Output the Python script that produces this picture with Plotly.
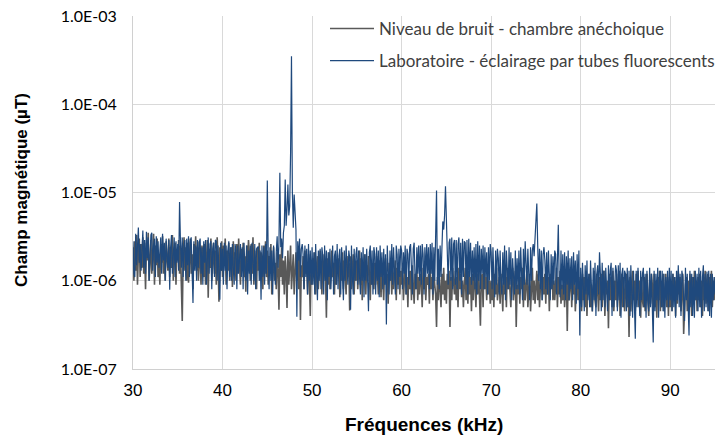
import plotly.graph_objects as go

# Sampling grid of the spectrum (kHz)
FREQ_START = 30.0
FREQ_STEP = 0.1

# Magnetic field values, in units of 1e-7 µT, one row per kHz (10 samples/kHz)
noise_anechoic = [
    24,10,28,13,33,9,21,30,11,26,
    14,31,12,22,8,27,17,35,10,23,
    29,12,19,34,9,25,15,30,11,20,
    9,26,16,32,12,22,10,28,18,13,
    30,11,24,14,33,10,20,27,9,22,
    17,29,12,25,9,3.5,19,31,13,24,
    10,27,9.5,22,30,12,20,8,26,16,
    32,13,24,10,28,15,9,25,19,11,
    26,9,21,29,6.4,23,14,30,10,19,
    27,12,22,9,31,17,5.8,24,13,28,
    11,25,16,30,9,22,13,27,10,20,
    24,8.5,28,14,21,10,26,12,30,15,
    9,23,13,27,11,19,7.5,25,16,29,
    20,10,26,12,31,9,22,15,8,24,
    13,27,10,21,17,8,25,12,28,11,
    22,9,19,12,26,7,18,24,10,16,
    8,21,13,4.7,20,11,24,9,17,7,
    19,12,4.9,22,9,17,25,8,14,20,
    7,16,21,10,18,8,23,3.6,15,11,
    19,8,22,12,16,7,20,11,4.0,17,
    9,18,13,21,7,15,19,8,12,22,
    14,7,20,10,17,12,3.8,18,9,21,
    8,19,22,11,16,7,20,9,14,12,
    18,6.5,15,10,21,8,17,12,7,19,
    11,16,4.6,19,8,14,20,7,15,10,
    17,8,13,22,9,18,6,16,11,20,
    7,15,10,19,12,6,17,9,14,8,
    16,9,19,11,7,17,13,6.5,15,10,
    6,14,18,9,12,5.5,16,10,13,7,
    15,8,12,17,6,14,9,16,7,13,
    9,14,6,12,16,7,11,5,13,8,
    13,6,15,9,5.5,12,8,14,6,11,
    7,12,10,5,14,8,13,6,11,9,
    12,5.5,14,8,11,6,13,9,7,3.0,
    11,6,13,8,5,12,7,14,6,10,
    5.5,12,8,13,3.0,11,6,14,9,7,
    13,6,11,5,14,8,12,6.5,10,5,
    9,14,6,12,5.5,13,7,11,4.5,12,
    6,13,9,5,12,7,14,6,3.1,11,
    12,5,14,8,11,6,13,7,10,5.5,
    10,6,13,5,12,7,14,6,9,11,
    5.5,12,8,4.5,13,7,11,5,14,8,
    12,6,5,11,14,6,10,13,3.0,9,
    7,13,5.5,11,8,14,5,12,6,10,
    13,5,9,12,4.5,11,14,6,10,5.5,
    9,13,6,12,5,10,14,6,11,7,
    12,5.5,13,7,11,4.5,12,8,14,6,
    10,6,12,14,5,11,7,13,5.5,9,
    6,12,5,10,13,2.7,11,6,9,12,
    5,11,7,13,4.5,10,12,6,11,5.5,
    10,4.5,12,6,11,5,13,4,10,7,
    12,5,9,4.5,11,13,6,5,12,8,
    4.5,11,6,12,5,10,13,4,9,7,
    10,2.9,12,6,11,5,13,4.5,10,6,
    12,5,10,13,4,7,12,5,11,4.5,
    7,12,5,10,2.3,11,4.5,9,13,6,
    10,4.5,12,6,13,5,10,3.8,11,6,
    5,11,4.5,10,12,6,4,10,5.5,12,
    9,4.5,12,5,10,3.8,11,6,13,4.5,
    10,5,12,4.5,7,12,5,10,4,11,
    5,10,4.5,12,6,11,4,10,5.5,13,
    7,11,4.5,10,12,2.5,6,9,11,4.5,
    10,5,12,6,4,11,5.5,13,6,10,
    4.5,11,6,12,5,10,4,11,6,13,
    5.5,10,12,4.5,11,6,13,5,10,6,
    11,
]

lab_fluorescent = [
    28,12,11,34,15,30,40,16,26,13,
    24,37,14,29,12,36,18,31,10,27,
    33,35,13,25,30,11,32,16,28,14,
    22,31,12,34,17,27,10,30,19,14,
    29,7.9,24,33,12,27,31,11,28,16,
    26,13,78,28,14,31,11,25,29,10,
    30,15,32,11,27,31,14,5.6,28,13,
    25,10,29,14,27,30,12,24,9,28,
    16,29,9,25,31,12,26,28,8,23,
    27,11,29,28,10,25,14,6.1,27,13,
    23,9,27,13,25,8,22,28,11,24,
    10,26,14,9,26,22,8,25,12,23,
    26,11,24,8,27,13,10,25,7,22,
    12,25,9,27,15,10,26,8,23,24,
    24.5,10,22,6.1,25,11,24,9,26,12,
    137,20,8,24,10,22,7,25,12,9,
    21,32,14,27,167,24,30,18,35,42,
    140,42,65,123,55,70,284,3500,100,40,
    95,50,38,3.9,28,17,30,11,23,26,
    20,8,25,11,23,7,26,10,22,9,
    24,9,21,7,26,12,6,22,10,23,
    8,24,19,7,25,10,22,6,21,11,
    23,8,20,25,7,19,22,9,26,8,
    19,23,7,24,11,6,22,10,25,12,
    9,22,18,4.7,25,11,7,23,10,20,
    24,9,22,11,7,21,10,24,6.5,20,
    10,23,8,4.5,21,25,9,22,7,24,
    20,7,24,10,22,6.5,25,11,21,8,
    23,9,20,3.2,25,11,7,22,10,26,
    9,24,12,7,25,20,8,23,11,25,
    22,8,21,12,25,7,23,20,9,24,
    26,10,7,23,27,11,8,24,12,25,
    10,25,9,26,20,7,24,11,26,12,
    24,8,26,12,27,7,24,10,25,105,
    9,23,8,25,11,28,47,38,55,118,
    40,28,9,27,30,10,31,8,26,29,
    9,29,8,26,31,10,27,7,30,11,
    28,27,9,29,7,30,11,27,9,22,
    10,24,8,26,7,28,10,25,8,23,
    12,25,8,24,11,21,7,24,10,26,
    21,8,24,11,6.5,22,9,23,18,7,
    22,10,7,21,9,25,6,22,11,8,
    24,9,21,6,18,10,7,22,8,18,
    8,22,7,24,11,6,23,9,28,12,
    9,23,11,6,24,10,22,26,19,30,
    49,75,25,10,23,8,22,6,20,24,
    17,8,21,7,22,10,6,20,8,19,
    9,22,20,7,21,43,10,6.5,22,8,
    20,7,21,6,19,9,22,6,18,8,
    19,6,21,9,17,5.5,20,8,22,2.4,
    14,5,16,8,4.5,15,7,17,6,12,
    5,17,8,4.5,14,6,16,4,12,15,
    7,21,12,4.5,16,6,13,5,14,8,
    4.5,15,6,13,16,4,14,5,12,15,
    13,4.5,15,6,16,3.8,12,14,5,13,
    12,4.5,14,5,13,4,15,6,3.8,13,
    6,2.2,13,5,14,8,4,13,6,12,
    14,5,12,3.8,13,6,4.5,14,5,12,
    6,2.0,13,4.5,12,6,14,3.8,11,13,
    5,13,4.5,12,3.8,11,6,13,5,14,
    6,13,4.5,12,5,11,3.8,13,6,15,
    5,12,4,13,11,5.5,3.5,14,6,12,
    4.5,2.4,13,5,12,4,11,3.8,13,6,
    12,4.5,14,5,13,3.8,11,15,4.5,12,
    5,12.7,4.5,13,4,12,3.8,12,6,11,
    7,
]

UNIT = 1e-7  # list values are expressed in 1e-7 µT

series_names = ["Niveau de bruit - chambre anéchoique",
                "Laboratoire - éclairage par tubes fluorescents"]
series_colors = ["#595959", "#1F497D"]
series_widths = [1.6, 1.2]

y_tickvals = [1e-7, 1e-6, 1e-5, 1e-4, 1e-3]
y_ticktext = ["1.0E-07", "1.0E-06", "1.0E-05", "1.0E-04", "1.0E-03"]
x_tickvals = [30, 40, 50, 60, 70, 80, 90]
x_title = "Fréquences (kHz)"
y_title = "Champ magnétique (µT)"


def freqs(n):
    return [round(FREQ_START + FREQ_STEP * i, 3) for i in range(n)]


fig = go.Figure()
for name, vals, col, lw, leg in zip(series_names, [noise_anechoic, lab_fluorescent],
                                    series_colors, series_widths, ["legend", "legend2"]):
    fig.add_trace(go.Scatter(
        x=freqs(len(vals)), y=[v * UNIT for v in vals], mode="lines",
        name=name, line=dict(color=col, width=lw), legend=leg,
    ))

W, H = 728, 439
L, R, T, B = 133, 13, 16, 70
pw, ph = W - L - R, H - T - B


def px2x(px):
    return (px - L) / pw


def py2y(py):
    return (H - B - py) / ph


legend_common = dict(
    xanchor="left", yanchor="middle", bgcolor="rgba(0,0,0,0)",
    font=dict(family="Lato, Liberation Sans, sans-serif", size=17, color="#404040"),
    itemwidth=44, borderwidth=0,
)

title_font = dict(family="Liberation Sans, Arial, sans-serif", color="#000000")

fig.update_layout(
    width=W, height=H,
    margin=dict(l=L, r=R, t=T, b=B, autoexpand=False),
    paper_bgcolor="white", plot_bgcolor="white",
    showlegend=True,
    legend=dict(x=px2x(325), y=py2y(29), **legend_common),
    legend2=dict(x=px2x(325), y=py2y(61), **legend_common),
    shapes=[dict(type="rect", xref="paper", yref="paper", layer="between",
                 x0=px2x(328), x1=px2x(740), y0=py2y(84), y1=py2y(-5),
                 fillcolor="white", line=dict(width=0))],
    annotations=[
        dict(text="<b>" + x_title + "</b>", xref="paper", yref="paper",
             x=0.5, y=py2y(424), xanchor="center", yanchor="middle",
             showarrow=False, font=dict(size=19, **title_font)),
        dict(text="<b>" + y_title + "</b>", xref="paper", yref="paper",
             x=px2x(21), y=py2y(190), xanchor="center", yanchor="middle",
             textangle=-90, showarrow=False, font=dict(size=17, **title_font)),
    ],
    xaxis=dict(
        range=[30, 95], tickvals=x_tickvals, automargin=False,
        showgrid=True, gridcolor="#d9d9d9", gridwidth=1,
        showline=True, linecolor="#d0d0d0", linewidth=1,
        zeroline=False, ticks="", ticklabelstandoff=6,
        tickfont=dict(family="Liberation Sans, Arial, sans-serif", size=17, color="#000000"),
    ),
    yaxis=dict(
        type="log", range=[-7, -3], tickvals=y_tickvals, ticktext=y_ticktext,
        automargin=False,
        showgrid=True, gridcolor="#d9d9d9", gridwidth=1,
        showline=True, linecolor="#d0d0d0", linewidth=1,
        zeroline=False, ticks="", ticklabelstandoff=12,
        tickfont=dict(family="Lato, Liberation Sans, sans-serif", size=16, color="#000000"),
    ),
)

fig.write_html("out.html", config={"displayModeBar": False},
               post_script="document.body.style.margin='0px';document.body.style.padding='0px';")
